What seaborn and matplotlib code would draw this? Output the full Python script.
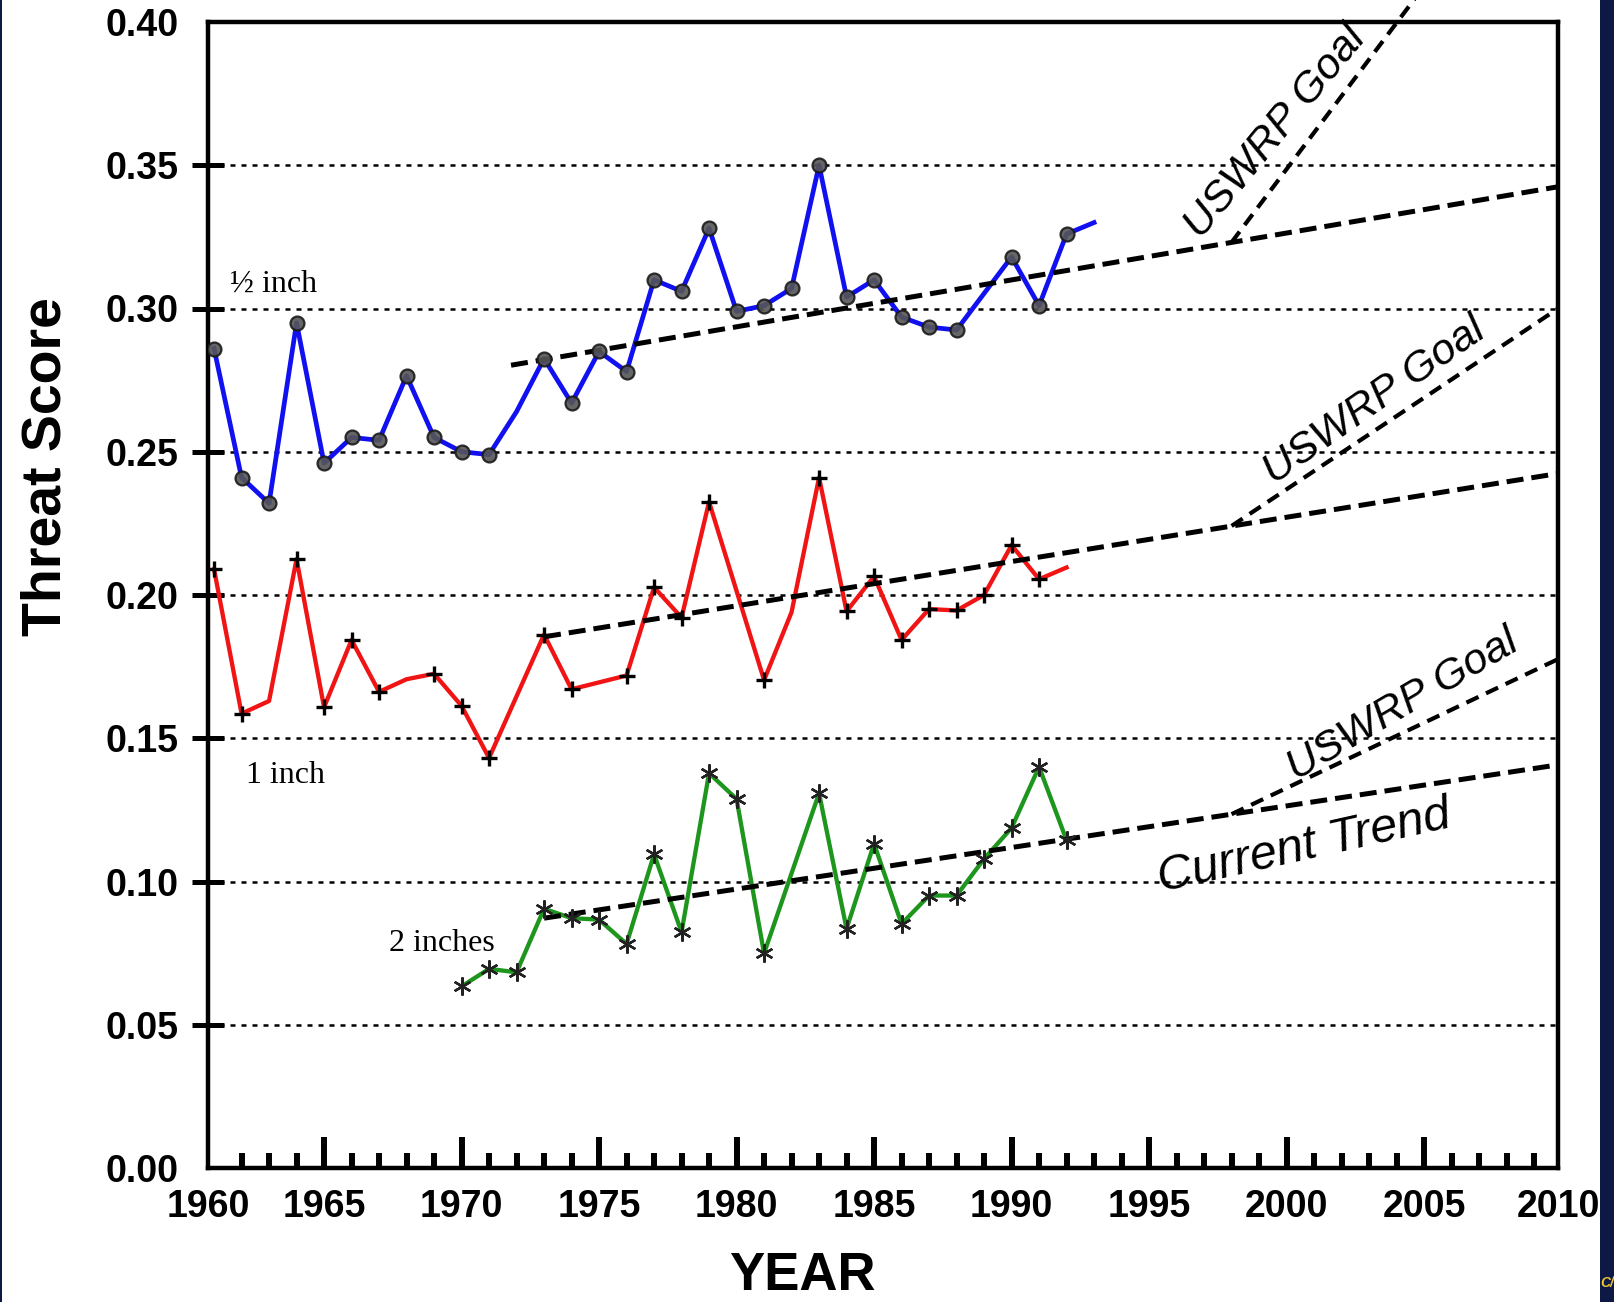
import numpy as np
import seaborn as sns
import matplotlib.pyplot as plt
from matplotlib.patches import Rectangle
from matplotlib.ticker import FixedLocator

# --- data ---
blue_years = [1961, 1962, 1963, 1964, 1965, 1966, 1967, 1968, 1969, 1970, 1971, 1972,
              1973, 1974, 1975, 1976, 1977, 1978, 1979, 1980, 1981, 1982, 1983, 1984,
              1985, 1986, 1987, 1988, 1990, 1991, 1992, 1993]
blue_vals = [0.286, 0.241, 0.232, 0.295, 0.246, 0.255, 0.254, 0.2765, 0.255, 0.250, 0.249, 0.264,
             0.2825, 0.267, 0.285, 0.278, 0.310, 0.306, 0.328, 0.299, 0.301, 0.307, 0.350, 0.304,
             0.310, 0.297, 0.2935, 0.2925, 0.318, 0.301, 0.326, 0.330]
blue_no_marker = [1972, 1993]

red_years = [1961, 1962, 1963, 1964, 1965, 1966, 1967, 1968, 1969, 1970, 1971, 1973,
             1974, 1976, 1977, 1978, 1979, 1981, 1982, 1983, 1984, 1985, 1986, 1987,
             1988, 1989, 1990, 1991, 1992]
red_vals = [0.209, 0.1586, 0.163, 0.2125, 0.1608, 0.1843, 0.1662, 0.1706, 0.1725, 0.1613, 0.1431, 0.1862,
            0.1671, 0.1719, 0.2027, 0.1921, 0.2325, 0.1703, 0.194, 0.241, 0.1943, 0.2065, 0.1843, 0.1951,
            0.1946, 0.200, 0.2174, 0.2055, 0.2096]
red_no_marker = [1963, 1968, 1982, 1992]

green_years = [1970, 1971, 1972, 1973, 1974, 1975, 1976, 1977, 1978, 1979, 1980, 1981,
               1983, 1984, 1985, 1986, 1987, 1988, 1989, 1990, 1991, 1992]
green_vals = [0.0634, 0.0695, 0.0683, 0.0905, 0.0872, 0.0867, 0.0782, 0.1095, 0.0823, 0.1378, 0.1288, 0.0749,
              0.1308, 0.0835, 0.1132, 0.0852, 0.0951, 0.0951, 0.1079, 0.1187, 0.140, 0.1144]

# trend (current) and USWRP goal lines: [start, end]
trend_years = {'blue': [1971.8, 2010], 'red': [1973, 2010], 'green': [1973, 2010]}
trend_vals = {'blue': [0.2802, 0.3427], 'red': [0.1854, 0.2426], 'green': [0.0872, 0.1409]}
goal_years = [1998, 2010]
goal_vals = {'blue': [0.3231, 0.4763], 'red': [0.2241, 0.3008], 'green': [0.1235, 0.1782]}

x_labels = ['1960', '1965', '1970', '1975', '1980', '1985', '1990', '1995', '2000', '2005', '2010']
y_labels = ['0.00', '0.05', '0.10', '0.15', '0.20', '0.25', '0.30', '0.35', '0.40']

plt.rcParams['font.family'] = 'Liberation Sans'

XMIN, XMAX = 1960.78, 2009.87

fig = plt.figure(figsize=(16.15, 13.02), dpi=100)
fig.patch.set_facecolor('#0d1845')
fig.patches.append(Rectangle((2 / 1615, 0), 1598 / 1615, 1, transform=fig.transFigure,
                             facecolor='white', edgecolor='none', zorder=-1))
ax = fig.add_axes([208 / 1615, 1 - 1168 / 1302, 1350 / 1615, 1146 / 1302])

# data lines
series = [
    (blue_years, blue_vals, '#1010f0', 3.4),
    (red_years, red_vals, '#f01414', 3.1),
    (green_years, green_vals, '#1e961e', 3.1),
]
for yrs, vals, col, lw in series:
    sns.lineplot(x=yrs, y=vals, ax=ax, color=col, lw=lw, zorder=3)

def marked(yrs, vals, skip):
    pts = [(a, b) for a, b in zip(yrs, vals) if a not in skip]
    return [p[0] for p in pts], [p[1] for p in pts]

bx, by = marked(blue_years, blue_vals, blue_no_marker)
sns.lineplot(x=bx, y=by, ax=ax, linestyle='none', marker='o', markersize=10,
             markerfacecolor='#555555', markeredgecolor='#1a1a1a', markeredgewidth=1.6,
             alpha=0.9, zorder=5)
rx, ry = marked(red_years, red_vals, red_no_marker)
sns.lineplot(x=rx, y=ry, ax=ax, linestyle='none', marker='+', markersize=12,
             color='black', markeredgecolor='black', markeredgewidth=2.4, zorder=5)
sns.lineplot(x=green_years, y=green_vals, ax=ax, linestyle='none', marker=(6, 2, 0),
             markersize=13, color='#222222', markeredgecolor='#222222',
             markeredgewidth=1.7, zorder=5)

# trend and goal lines
for key in ['blue', 'red', 'green']:
    l1 = sns.lineplot(x=trend_years[key], y=trend_vals[key], ax=ax, color='black', lw=3.6, zorder=4)
    l1.lines[-1].set_dashes((3.4, 1.6))
    l2 = sns.lineplot(x=goal_years, y=goal_vals[key], ax=ax, color='black', lw=3.0, zorder=4)
    l2.lines[-1].set_dashes((3.2, 2.0))
    if key == 'blue':
        l2.lines[-1].set_clip_on(False)

# text annotations
ax.text(0.0160, 0.7644, '\u00bd inch', transform=ax.transAxes, fontsize=23,
        family='Liberation Serif', va='baseline', ha='left')
ax.text(0.0283, 0.3362, '1 inch', transform=ax.transAxes, fontsize=23,
        family='Liberation Serif', va='baseline', ha='left')
ax.text(0.1344, 0.1896, '2 inches', transform=ax.transAxes, fontsize=23,
        family='Liberation Serif', va='baseline', ha='left')
for (tx, ty, rot) in [(0.7911, 0.9040, 50.5), (0.8644, 0.6693, 35.0), (0.8852, 0.4040, 30.5)]:
    ax.text(tx, ty, 'USWRP Goal', transform=ax.transAxes, fontsize=31, style='italic',
            rotation=rot, rotation_mode='anchor', ha='center', va='center')
ax.text(0.8120, 0.2800, 'Current Trend', transform=ax.transAxes, fontsize=35, style='italic',
        rotation=12.6, rotation_mode='anchor', ha='center', va='center')

# axes
ax.set_xlim(XMIN, XMAX)
ax.set_ylim(0.0, 0.40)
xpos = [min(max(int(s), XMIN), XMAX) for s in x_labels]
ax.xaxis.set_major_locator(FixedLocator(xpos))
ax.set_xticklabels(x_labels, fontweight='bold')
ax.xaxis.set_minor_locator(FixedLocator([y for y in range(1962, 2010) if y % 5]))
ax.yaxis.set_major_locator(FixedLocator([float(s) for s in y_labels]))
ax.set_yticklabels(y_labels, fontweight='bold')

ax.tick_params(axis='x', which='major', direction='in', length=22, width=4.3, pad=15,
               labelsize=27, top=False)
ax.tick_params(axis='x', which='minor', direction='in', length=11, width=4.3, top=False)
ax.tick_params(axis='y', which='major', direction='inout', length=23, width=3.6, pad=10,
               labelsize=27, right=False)
for t in [ax.xaxis.get_major_ticks()[0], ax.xaxis.get_major_ticks()[-1],
          ax.yaxis.get_major_ticks()[0], ax.yaxis.get_major_ticks()[-1]]:
    t.tick1line.set_visible(False)

for s in ax.spines.values():
    s.set_linewidth(3.2)
    s.set_color('black')

ax.grid(axis='y', color='black', lw=1.8, linestyle=(0, (2.0, 2.4)))
ax.set_axisbelow(True)

ax.set_xlabel('YEAR', fontsize=38, fontweight='bold', va='baseline')
ax.xaxis.set_label_coords(0.440, -0.1065)
ax.set_ylabel('Threat Score', fontsize=40, fontweight='bold', va='baseline')
ax.yaxis.set_label_coords(-0.1096, 0.612)

fig.text(1600 / 1615, 1 - 1287 / 1302, 'C/', color='#e8c630', fontsize=10,
         style='italic', fontweight='bold', ha='left', va='baseline')

fig.savefig('out.png', dpi=100, facecolor=fig.get_facecolor())
